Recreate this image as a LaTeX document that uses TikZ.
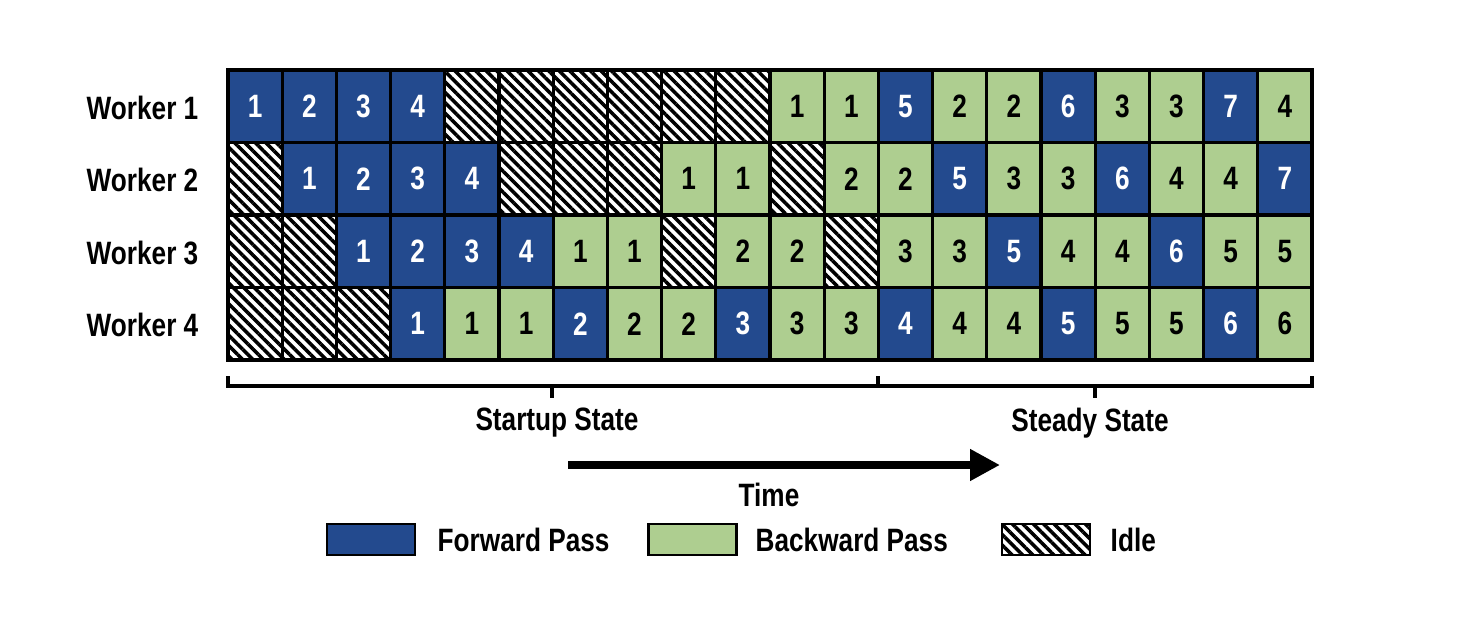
\documentclass[tikz,border=0pt]{standalone}
\usepackage{fontspec}
\setmainfont[FakeStretch=0.81]{Liberation Sans}
\usetikzlibrary{arrows.meta,patterns.meta,calc}
\definecolor{fwdblue}{HTML}{234A8E}
\definecolor{bwdgreen}{HTML}{AECE90}
\tikzstyle{cell}=[draw,line width=0.9pt,minimum width=0.542cm,minimum height=0.725cm,inner sep=0pt,font=\fontsize{9.2}{10}\selectfont\bfseries]
\tikzstyle{fcell}=[cell,fill=fwdblue,text=white]
\tikzstyle{bcell}=[cell,fill=bwdgreen]
\tikzstyle{icell}=[cell,fill=white,pattern={Lines[angle=-45,distance=2.1pt,line width=1pt]}]
\tikzstyle{label}=[font=\fontsize{9.2}{10}\selectfont\bfseries,inner sep=0pt]
\tikzstyle{bracket}=[line width=0.9pt]

\begin{document}
\begin{tikzpicture}
			\useasboundingbox (0,0) rectangle (14.58,-6.18);

			% First we draw the schedule, one row per worker
			\foreach \row/\cells in {
				1/{f/1,f/2,f/3,f/4,i/,i/,i/,i/,i/,i/,b/1,b/1,f/5,b/2,b/2,f/6,b/3,b/3,f/7,b/4},
				2/{i/,f/1,f/2,f/3,f/4,i/,i/,i/,b/1,b/1,i/,b/2,b/2,f/5,b/3,b/3,f/6,b/4,b/4,f/7},
				3/{i/,i/,f/1,f/2,f/3,f/4,b/1,b/1,i/,b/2,b/2,i/,b/3,b/3,f/5,b/4,b/4,f/6,b/5,b/5},
				4/{i/,i/,i/,f/1,b/1,b/1,f/2,b/2,b/2,f/3,b/3,b/3,f/4,b/4,b/4,f/5,b/5,b/5,f/6,b/6}}
			{
				\node[label,anchor=east] (w\row) at (1.99,{-0.715-0.725*(\row-0.5)}) {Worker \row};
				\foreach \t/\n [count=\col] in \cells
				\node[\t cell] (c\row-\col) at ({2.28+0.542*(\col-0.5)},{-0.70-0.725*(\row-0.5)}) {\n};
			}

			% Bracket below the schedule
			\coordinate (bl) at (2.28,-3.86);
			\coordinate (br) at (13.12,-3.86);
			\draw[bracket] ($(bl)+(0,0.10)$) -- (bl) -- (br) -- ($(br)+(0,0.10)$);
			\draw[bracket] (8.78,-3.86) -- (8.78,-3.76);
			\draw[bracket] (5.52,-3.86) -- (5.52,-3.98);
			\draw[bracket] (10.95,-3.86) -- (10.95,-3.98);
			\node[label] (startup) at (5.57,-4.23) {Startup State};
			\node[label] (steady) at (10.90,-4.23) {Steady State};

			% Time arrow
			\coordinate (tstart) at (5.68,-4.65);
			\coordinate (tend) at (10.00,-4.65);
			\draw[line width=2.3pt,-{Triangle[length=0.3cm,width=0.3cm]}] (tstart) -- (tend);
			\node[label] (time) at (7.69,-4.95) {Time};

			% Legend
			\foreach \t/\x/\tx/\txt in {f/3.71/4.37/Forward Pass, b/6.925/7.55/Backward Pass, i/10.46/11.10/Idle}
			{
				\node[\t cell,minimum width=0.88cm,minimum height=0.31cm,line width=0.6pt] (key\t) at (\x,-5.395) {};
				\node[label,anchor=west] (keytext\t) at (\tx,-5.40) {\txt};
			}

		\end{tikzpicture}
\end{document}
